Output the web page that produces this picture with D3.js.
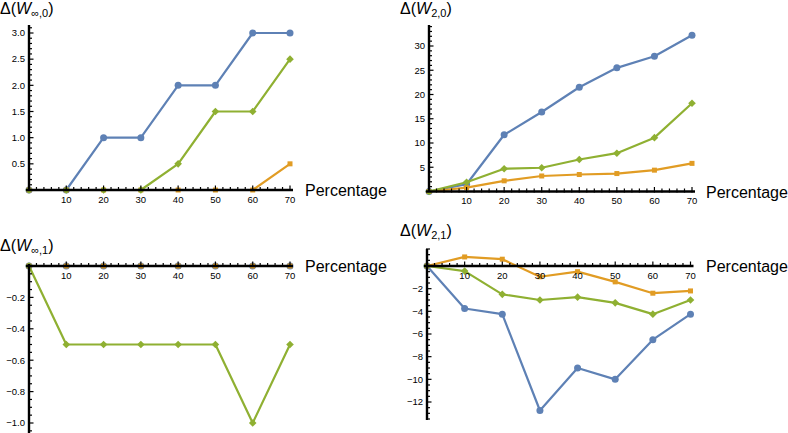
<!DOCTYPE html>
<html><head><meta charset="utf-8">
<script src="https://cdn.jsdelivr.net/npm/d3@7/dist/d3.min.js"></script>
<style>body{margin:0;background:#fff}svg{display:block}text{font-family:"Liberation Sans",Arial,sans-serif}</style>
</head><body>
<svg id="c" width="788" height="433"></svg>
<script>
const percentages = [0,10,20,30,40,50,60,70];
const xTickLabels = [10,20,30,40,50,60,70];

const winf0_blue   = [0,0,1,1,2,2,3,3];
const winf0_orange = [0,0,0,0,0,0,0,0.5];
const winf0_green  = [0,0,0,0,0.5,1.5,1.5,2.5];

const w20_blue   = [0,1.5,11.7,16.4,21.5,25.5,27.9,32.2];
const w20_orange = [0,0.8,2.2,3.2,3.5,3.7,4.4,5.8];
const w20_green  = [0,1.9,4.7,4.9,6.6,7.9,11.1,18.2];

const winf1_blue   = [0,0,0,0,0,0,0,0];
const winf1_orange = [0,0,0,0,0,0,0,0];
const winf1_green  = [0,-0.5,-0.5,-0.5,-0.5,-0.5,-1,-0.5];

const w21_blue   = [0,-3.75,-4.25,-12.75,-9,-10,-6.5,-4.25];
const w21_orange = [0,0.8,0.6,-0.95,-0.5,-1.4,-2.4,-2.2];
const w21_green  = [0,-0.45,-2.5,-3.0,-2.75,-3.25,-4.25,-3.0];

const yTicks_winf0 = [0.5,1.0,1.5,2.0,2.5,3.0];
const yTicks_w20 = [5,10,15,20,25,30];
const yTicks_winf1 = [-0.2,-0.4,-0.6,-0.8,-1.0];
const yTicks_w21 = [-2,-4,-6,-8,-10,-12];

const colors = {blue:"#5E81B5", orange:"#E19C24", green:"#8FB032"};
const svg = d3.select("#c");

function fmt(v, dec){ const s = Math.abs(v).toFixed(dec); return (v<0?"\u2212":"") + s; }

function panel(o){
  const g = svg.append("g");
  const x = d3.scaleLinear().domain([0,70]).range(o.xr);
  const y = d3.scaleLinear().domain(o.yd).range(o.yr);
  const series = [
    {vals:o.blue, c:colors.blue, m:"circle"},
    {vals:o.orange, c:colors.orange, m:"square"},
    {vals:o.green, c:colors.green, m:"diamond"}
  ];
  const line = d3.line().x((d,i)=>x(percentages[i])).y(d=>y(d));
  series.forEach(s=>{
    g.append("path").attr("d", line(s.vals)).attr("fill","none")
      .attr("stroke", s.c).attr("stroke-width",2.2).attr("stroke-linejoin","round");
    s.vals.forEach((v,i)=>{
      const cx = x(percentages[i]), cy = y(v);
      if(s.m==="circle") g.append("circle").attr("cx",cx).attr("cy",cy).attr("r",3.5).attr("fill",s.c);
      else if(s.m==="square") g.append("rect").attr("x",cx-2.5).attr("y",cy-2.5).attr("width",5).attr("height",5).attr("fill",s.c);
      else g.append("path").attr("d",`M${cx},${cy-3.8}L${cx+3.8},${cy}L${cx},${cy+3.8}L${cx-3.8},${cy}Z`).attr("fill",s.c);
    });
  });
  const x0 = x(0), y0 = y(0);
  const ax = g.append("g").attr("stroke","#000");
  ax.append("line").attr("x1",x0-3).attr("x2",x(70)+3).attr("y1",y0).attr("y2",y0).attr("stroke-width",2.4);
  ax.append("line").attr("x1",x0).attr("x2",x0).attr("y1",o.yAxis[0]).attr("y2",o.yAxis[1]).attr("stroke-width",2.4);
  d3.range(2,71,2).forEach(v=>{
    const major = v%10===0;
    ax.append("line").attr("x1",x(v)).attr("x2",x(v)).attr("y1",y0+1).attr("y2",y0-(major?4.5:3)).attr("stroke-width",1.2);
  });
  const [ya,yb] = [Math.min(y.invert(o.yAxis[0]),y.invert(o.yAxis[1])), Math.max(y.invert(o.yAxis[0]),y.invert(o.yAxis[1]))];
  for(let k=Math.ceil(ya/o.minor); k*o.minor<=yb; k++){
    const v = k*o.minor; if(Math.abs(v)<1e-9) continue;
    const major = Math.abs(v/o.major - Math.round(v/o.major))<1e-6;
    ax.append("line").attr("x1",x0-1).attr("x2",x0+(major?4.5:3)).attr("y1",y(v)).attr("y2",y(v)).attr("stroke-width",1.2);
  }
  xTickLabels.forEach(v=>{
    g.append("text").attr("x",x(v)).attr("y",y0+12.5).attr("text-anchor","middle")
      .attr("font-size",9.5).text(v);
  });
  o.yticks.forEach(v=>{
    g.append("text").attr("x",x0-4).attr("y",y(v)+3.3).attr("text-anchor","end")
      .attr("font-size",9.5).text(fmt(v,o.dec));
  });
  g.append("text").attr("x",o.labX).attr("y",y0+6).attr("font-size",16).text("Percentage");
  const t = g.append("text").attr("x",o.titleX).attr("y",o.titleY).attr("font-size",16);
  t.append("tspan").text("\u0394(");
  t.append("tspan").attr("font-style","italic").text("W");
  t.append("tspan").attr("font-size",11).attr("dy",3).text(o.sub);
  t.append("tspan").attr("dy",-3).text(")");
}

panel({xr:[29,290], yd:[0,3], yr:[190,33], yAxis:[25,190], blue:winf0_blue, orange:winf0_orange, green:winf0_green,
  yticks:yTicks_winf0, dec:1, major:0.5, minor:0.1, labX:305, titleX:0, titleY:14, sub:"\u221E,0"});
panel({xr:[429,692], yd:[0,30], yr:[191.5,46], yAxis:[25,191.5], blue:w20_blue, orange:w20_orange, green:w20_green,
  yticks:yTicks_w20, dec:0, major:5, minor:1, labX:706, titleX:400, titleY:14, sub:"2,0"});
panel({xr:[29,290], yd:[0,-1], yr:[266,423], yAxis:[264,433], blue:winf1_blue, orange:winf1_orange, green:winf1_green,
  yticks:yTicks_winf1, dec:1, major:0.2, minor:0.05, labX:305, titleX:0, titleY:251, sub:"\u221E,1"});
panel({xr:[427,690.5], yd:[0,-12], yr:[266,402], yAxis:[249,420], blue:w21_blue, orange:w21_orange, green:w21_green,
  yticks:yTicks_w21, dec:0, major:2, minor:0.5, labX:706, titleX:400, titleY:236, sub:"2,1"});
</script>
</body></html>
